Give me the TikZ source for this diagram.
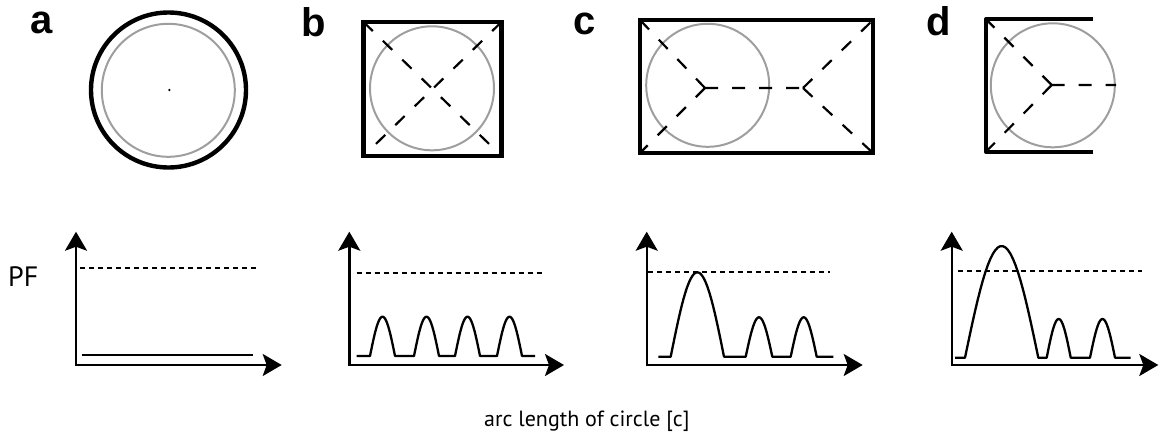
\documentclass[tikz,border=0pt]{standalone}
\usepackage{fontspec}
\setmainfont{PT Sans}
\newfontfamily\labelfont{Liberation Sans}
\usetikzlibrary{arrows.meta}
\definecolor{ringgrey}{gray}{0.62}
\newcommand{\bump}[4]{-- plot[domain=0:180,samples=30] ({#1+#2*\x/180},{#3-#4*sin(\x)})}

\begin{document}
\begin{tikzpicture}[x=1pt,y=-1pt,
  frame/.style={line width=4.4pt},
  guide/.style={ringgrey,line width=2pt},
  cut/.style={line width=2.2pt,dash pattern=on 13pt off 14pt},
  axis/.style={line width=2.4pt,{Stealth[length=19pt,width=22pt,inset=4pt]}-{Stealth[length=19pt,width=22pt,inset=4pt]}},
  limit/.style={line width=1.8pt,dash pattern=on 5pt off 4pt},
  curve/.style={line width=2.3pt,line join=round},
  panel/.style={font=\labelfont\bfseries\fontsize{40}{40}\selectfont,anchor=base west,inner sep=0pt}]
\useasboundingbox (0,0) rectangle (1161,436);

% panel letters
\node[panel] (labA) at (30,34) {a};
\node[panel] (labB) at (301,37) {b};
\node[panel] (labC) at (573,35) {c};
\node[panel] (labD) at (926,36) {d};

% a: circle in circle
\draw[guide] (168.3,90.3) circle (66.5pt);
\draw[frame] (168.5,90) circle (77.5pt);
\fill (169.3,90) circle (1.3pt);

% b: square
\draw[guide] (432,88.3) circle (62pt);
\draw[cut] (363.5,22) -- (501.5,156);
\draw[cut] (501.5,22) -- (363.5,156);
\draw[frame] (363.5,22) rectangle (501.5,156);

% c: rectangle
\draw[guide] (707.7,85.3) circle (61.5pt);
\coordinate (jL) at (705,88);
\coordinate (jR) at (803,88);
\draw[cut] (jL) -- (640,20) (jL) -- (640,153) (jL) -- (jR);
\draw[cut] (jR) -- (873,20) (jR) -- (873,153);
\draw[frame] (640,20) rectangle (873,153);

% d: open channel
\draw[guide] (1052.8,85.3) circle (62pt);
\coordinate (jD) at (1051.7,85);
\draw[cut] (jD) -- (986,19.3) (jD) -- (986,151.7) (jD) -- (1116,85);
\draw[frame,line join=round] (1092.7,19.3) -- (986,19.3) -- (986,151.7) -- (1092.7,151.7);

% axes and threshold
\foreach \ox/\tx/\dl/\dr/\dy in {76/281.7/80/256.7/268.3, 349.3/564/356.7/545/272.7,
    646.7/862.7/648/830/272.3, 951.7/1158.3/958.3/1141.7/271}{
  \draw[axis] (\ox,231.7) -- (\ox,365) -- (\tx,365);
  \draw[limit] (\dl,\dy) -- (\dr,\dy);
}

% profiles
\draw[curve] (81.7,355.3) -- (253.3,355.3);
\draw[curve] (356.7,356) \bump{370}{25}{356}{39.3} -- (414,356) \bump{414}{25}{356}{39.3}
  -- (455,356) \bump{455}{25}{356}{39.3} -- (497,356) \bump{497}{25}{356}{39.3} -- (535,356);
\draw[curve] (658.3,356.7) \bump{670.7}{53.3}{356.7}{84.4} -- (745.7,356.7) \bump{745.7}{26.6}{356.7}{39.4}
  -- (790.7,356.7) \bump{790.7}{26}{356.7}{39.4} -- (833.3,356.7);
\draw[curve] (955,357.7) \bump{965}{73.3}{357.7}{111.7} -- (1046.7,357.7) \bump{1046.7}{24}{357.7}{38.7}
  -- (1090,357.7) \bump{1090}{25}{357.7}{38.7} -- (1130.7,357.7);

% axis texts
\node[anchor=base west,inner sep=0pt] (pf) at (8,286) {\fontsize{28}{28}\selectfont PF};
\node[anchor=base west,inner sep=0pt] (arclen) at (484,426.7) {\fontsize{22}{22}\selectfont arc length of circle [c]};
\end{tikzpicture}
\end{document}
